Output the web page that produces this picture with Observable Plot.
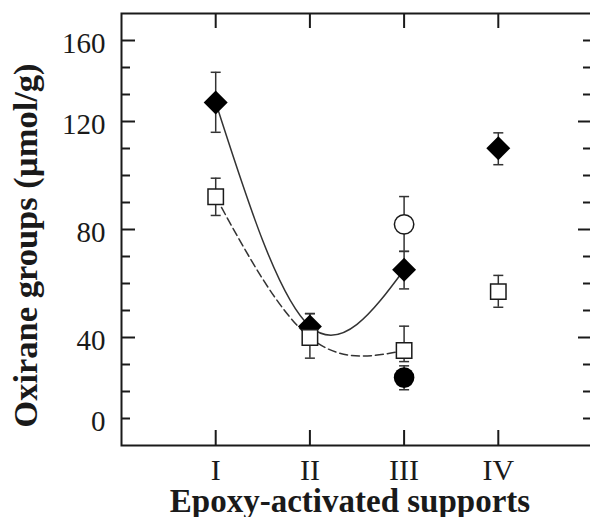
<!DOCTYPE html>
<html>
<head>
<meta charset="utf-8">
<script src="https://cdn.jsdelivr.net/npm/d3@7"></script>
<script src="https://cdn.jsdelivr.net/npm/@observablehq/plot@0.6"></script>
<style>
  html, body { margin: 0; padding: 0; background: #fff; overflow: hidden; }
  #chart { width: 590px; height: 517px; overflow: hidden; }
  #chart svg { display: block; max-width: none; }
</style>
</head>
<body>
<div id="chart"></div>
<script>
// ---- data ----
const categories = ["I", "II", "III", "IV"];
const yTickLabels = [0, 40, 80, 120, 160];

// filled diamonds
const diamondY  = [129.4, 44.1, 65.1, 110.1];
const diamondLo = [116.0, 39.5, 58.0, 104.0];
const diamondHi = [144.3, 48.8, 71.9, 115.8];

// open squares
const squareY  = [92.1, 40.0, 33.6, 57.0];
const squareLo = [85.2, 29.8, 28.1, 51.2];
const squareHi = [99.0, 48.9, 44.2, 63.0];

// open circle (support III only)
const openCircleCat = ["III"];
const openCircleY  = [81.9];
const openCircleLo = [71.9];
const openCircleHi = [92.2];

// filled circle (support III only)
const filledCircleCat = ["III"];
const filledCircleY  = [20.2];
const filledCircleLo = [14.2];
const filledCircleHi = [26.0];

// curves are drawn through supports I-III
const curveCats = ["I", "II", "III"];

// axis tick sets (the original axis is not evenly labelled)
const leftMajor  = [40, 80, 120, 160];
const leftMinor  = [0, 40/3, 80/3, 50, 60, 70, 90, 100, 110, 120 + 40/3, 120 + 80/3];
const rightMajor = [40, 80, 120];
const rightMinor = [0, 40/3, 80/3, 50, 60, 70, 90, 100, 110, 120 + 40/3, 120 + 80/3, 160];

// ---- tables ----
const xi = c => categories.indexOf(c) + 1;
function table(cats, ys, lo, hi) {
  return cats.map((c, i) => ({x: xi(c), y: ys[i], lo: lo[i], hi: hi[i]}));
}
const diamonds = table(categories, diamondY, diamondLo, diamondHi);
const squares = table(categories, squareY, squareLo, squareHi);
const openCircles = table(openCircleCat, openCircleY, openCircleLo, openCircleHi);
const filledCircles = table(filledCircleCat, filledCircleY, filledCircleLo, filledCircleHi);
const diamondCurve = diamonds.filter(d => curveCats.includes(categories[d.x - 1]));
const squareCurve = squares.filter(d => curveCats.includes(categories[d.x - 1]));
const allBars = [...diamonds, ...squares, ...openCircles, ...filledCircles];

// ---- layout (the frame's right edge lies just beyond the visible page, as in the original) ----
const W = 600, H = 517, mT = 13, mB = 72, mL = 121, mR = 8;
const plotW = W - mL - mR, plotH = H - mT - mB;
// piecewise linear y scale reproducing the original axis
const yBreaks = [-40/3, 0, 40, 80, 120, 160, 160 + 40/3];
const yStep = [16, 15, 12, 8, 4, 1, 0];
const yRange = yStep.map(s => mT + s * plotH / 16);

const cap = {draw(ctx, size) { const w = Math.sqrt(size / Math.PI); ctx.moveTo(-w, 0); ctx.lineTo(w, 0); }};
const ink = "#1a1a1a";
const barInk = "#333";

const chart = Plot.plot({
  width: W, height: H,
  marginTop: mT, marginBottom: mB, marginLeft: mL, marginRight: mR,
  style: {fontFamily: "'Liberation Serif', 'Times New Roman', serif", background: "#fff", color: ink},
  x: {type: "linear", domain: [0, 5]},
  y: {type: "linear", domain: yBreaks, range: yRange},
  marks: [
    Plot.frame({stroke: ink, strokeWidth: 2}),
    // y ticks, pointing inward
    Plot.ruleY(leftMajor, {y: d => d, insetRight: plotW - 14, stroke: ink, strokeWidth: 2}),
    Plot.ruleY(leftMinor, {y: d => d, insetRight: plotW - 9, stroke: ink, strokeWidth: 2}),
    Plot.ruleY(rightMajor, {y: d => d, insetLeft: plotW - 14, stroke: ink, strokeWidth: 2}),
    Plot.ruleY(rightMinor, {y: d => d, insetLeft: plotW - 9, stroke: ink, strokeWidth: 2}),
    // x ticks, bottom and top
    Plot.ruleX(categories, {x: d => xi(d), insetTop: plotH - 15, stroke: ink, strokeWidth: 2}),
    Plot.ruleX(categories, {x: d => xi(d), insetBottom: plotH - 15, stroke: ink, strokeWidth: 2}),
    // tick labels
    Plot.axisY(yTickLabels, {anchor: "left", tickSize: 0, tickPadding: 16, fontSize: 29, dy: 3, label: null}),
    Plot.axisX(categories.map(xi), {anchor: "bottom", tickSize: 0, tickPadding: 13, fontSize: 30,
      tickFormat: d => categories[d - 1], label: null}),
    // titles
    Plot.text(["Epoxy-activated supports"], {frameAnchor: "bottom", lineAnchor: "middle", textAnchor: "middle",
      dx: -7, dy: 56, fontSize: 33, fontWeight: "bold", fill: ink}),
    Plot.text(["Oxirane groups (\u00b5mol/g)"], {frameAnchor: "left", lineAnchor: "middle", textAnchor: "middle",
      rotate: -90, dx: -96, dy: 16, fontSize: 34.5, fontWeight: "bold", fill: ink}),
    // fitted curves
    Plot.line(squareCurve, {x: "x", y: "y", curve: "natural", stroke: "#333", strokeWidth: 1.5, strokeDasharray: "8,4"}),
    Plot.line(diamondCurve, {x: "x", y: "y", curve: "natural", stroke: "#333", strokeWidth: 1.5}),
    // error bars
    Plot.ruleX(allBars, {x: "x", y1: "lo", y2: "hi", stroke: barInk, strokeWidth: 1.5}),
    Plot.dot(allBars, {x: "x", y: "lo", symbol: cap, r: 5, stroke: barInk, strokeWidth: 1.5, fill: "none"}),
    Plot.dot(allBars, {x: "x", y: "hi", symbol: cap, r: 5, stroke: barInk, strokeWidth: 1.5, fill: "none"}),
    // markers
    Plot.dot(diamonds, {x: "x", y: "y", symbol: "diamond2", r: 10.8, fill: "#000", stroke: "none"}),
    Plot.dot(squares, {x: "x", y: "y", symbol: "square", r: 8.7, fill: "#fff", stroke: ink, strokeWidth: 1.5}),
    Plot.dot(openCircles, {x: "x", y: "y", r: 9.7, fill: "#fff", stroke: ink, strokeWidth: 1.5}),
    Plot.dot(filledCircles, {x: "x", y: "y", r: 10.3, fill: "#000", stroke: "none"})
  ]
});
document.getElementById("chart").appendChild(chart);
</script>
</body>
</html>
